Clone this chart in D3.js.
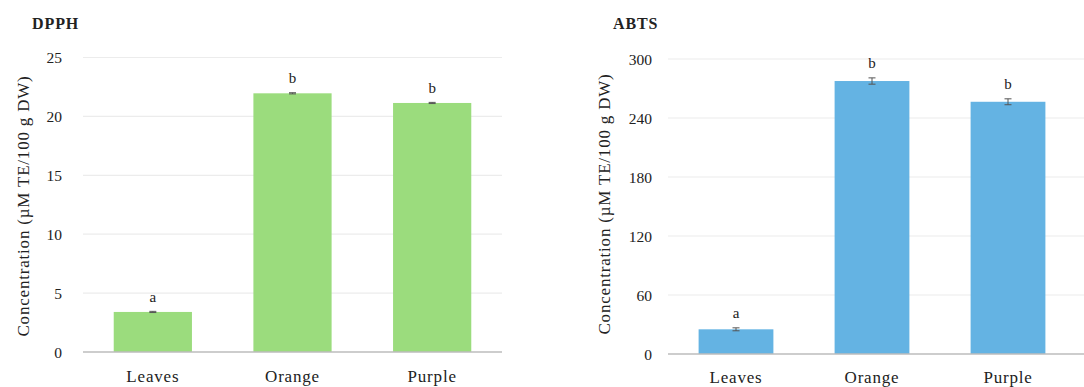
<!DOCTYPE html>
<html>
<head>
<meta charset="utf-8">
<script src="https://cdn.jsdelivr.net/npm/d3@7"></script>
<style>
  html, body { margin: 0; padding: 0; background: #fff; }
  svg { display: block; }
  text { font-family: "Liberation Serif", "DejaVu Serif", serif; fill: #222; }
</style>
</head>
<body>
<svg id="chart" width="1084" height="387"></svg>
<script>
// Antioxidant capacity by sample type
const categories = ["Leaves", "Orange", "Purple"];

const dpphValues = [3.40, 21.96, 21.14];
const dpphErrors = [0.05, 0.05, 0.05];
const dpphLetters = ["a", "b", "b"];
const dpphTicks = [0, 5, 10, 15, 20, 25];

const abtsValues = [25.1, 277.6, 256.5];
const abtsErrors = [1.5, 3.2, 3.0];
const abtsLetters = ["a", "b", "b"];
const abtsTicks = [0, 60, 120, 180, 240, 300];

const yLabel = "Concentration (\u00b5M TE/100 g DW)";

const svg = d3.select("#chart");

function panel(opt) {
  const g = svg.append("g");
  const y = d3.scaleLinear().domain([0, opt.ticks[opt.ticks.length - 1]])
    .range([opt.bottom, opt.top]);
  const x = d3.scaleBand().domain(categories)
    .range([opt.left, opt.right])
    .paddingInner(opt.pad).paddingOuter(opt.pad / 2);

  // gridlines
  g.selectAll(".grid").data(opt.ticks.slice(1)).join("line")
    .attr("x1", opt.left).attr("x2", opt.gridEnd)
    .attr("y1", d => y(d)).attr("y2", d => y(d))
    .attr("stroke", "#ececec").attr("stroke-width", 1.2);

  // y axis tick labels
  const yAxis = d3.axisLeft(y).tickValues(opt.ticks).tickSize(0).tickPadding(0);
  const ya = g.append("g").attr("transform", `translate(${opt.tickX},0)`).call(yAxis)
    .attr("font-family", null);
  ya.select(".domain").remove();
  ya.selectAll("text").attr("font-size", 15.5).attr("fill", "#222")
    .attr("dy", "0.35em");

  // bars
  g.selectAll(".bar").data(opt.values).join("rect")
    .attr("x", (d, i) => x(categories[i]))
    .attr("width", x.bandwidth())
    .attr("y", d => y(d))
    .attr("height", d => y(0) - y(d))
    .attr("fill", opt.color);

  // error bars
  const eb = g.selectAll(".err").data(opt.values).join("g")
    .attr("transform", (d, i) => `translate(${x(categories[i]) + x.bandwidth() / 2},0)`);
  eb.append("line")
    .attr("y1", (d, i) => y(d - opt.errors[i])).attr("y2", (d, i) => y(d + opt.errors[i]))
    .attr("stroke", "#555").attr("stroke-width", 1);
  eb.append("line").attr("x1", -3.5).attr("x2", 3.5)
    .attr("y1", (d, i) => y(d + opt.errors[i])).attr("y2", (d, i) => y(d + opt.errors[i]))
    .attr("stroke", "#555").attr("stroke-width", 1);
  eb.append("line").attr("x1", -3.5).attr("x2", 3.5)
    .attr("y1", (d, i) => y(d - opt.errors[i])).attr("y2", (d, i) => y(d - opt.errors[i]))
    .attr("stroke", "#555").attr("stroke-width", 1);

  // significance letters
  g.selectAll(".letter").data(opt.values).join("text")
    .attr("x", (d, i) => x(categories[i]) + x.bandwidth() / 2)
    .attr("y", (d, i) => y(d + opt.errors[i]) - 9.5)
    .attr("text-anchor", "middle").attr("font-size", 15)
    .text((d, i) => opt.letters[i]);

  // baseline axis
  g.append("line")
    .attr("x1", opt.left).attr("x2", opt.gridEnd)
    .attr("y1", y(0)).attr("y2", y(0))
    .attr("stroke", "#bdbdbd").attr("stroke-width", 1.5);

  // category labels
  g.selectAll(".cat").data(categories).join("text")
    .attr("x", d => x(d) + x.bandwidth() / 2)
    .attr("y", y(0) + opt.catDy)
    .attr("text-anchor", "middle").attr("font-size", 17)
    .attr("letter-spacing", 0.8)
    .text(d => d);

  // y axis title
  g.append("text")
    .attr("transform", `translate(${opt.labelX},${opt.labelY}) rotate(-90)`)
    .attr("text-anchor", "middle").attr("font-size", 17)
    .attr("letter-spacing", 0.8)
    .text(yLabel);

  // panel title
  g.append("text")
    .attr("x", opt.titleX).attr("y", 29)
    .attr("font-size", 16).attr("font-weight", "bold")
    .attr("letter-spacing", 0.9)
    .text(opt.title);
}

panel({
  title: "DPPH", titleX: 32,
  values: dpphValues, errors: dpphErrors, letters: dpphLetters, ticks: dpphTicks,
  color: "#9bdc7d",
  left: 83, right: 502, gridEnd: 502, pad: 0.44,
  top: 57.5, bottom: 352,
  tickX: 62, labelX: 29, labelY: 206, catDy: 30
});

panel({
  title: "ABTS", titleX: 613,
  values: abtsValues, errors: abtsErrors, letters: abtsLetters, ticks: abtsTicks,
  color: "#64b3e3",
  left: 668, right: 1076, gridEnd: 1084, pad: 0.45,
  top: 59, bottom: 354,
  tickX: 652, labelX: 610, labelY: 204, catDy: 29
});
</script>
</body>
</html>
